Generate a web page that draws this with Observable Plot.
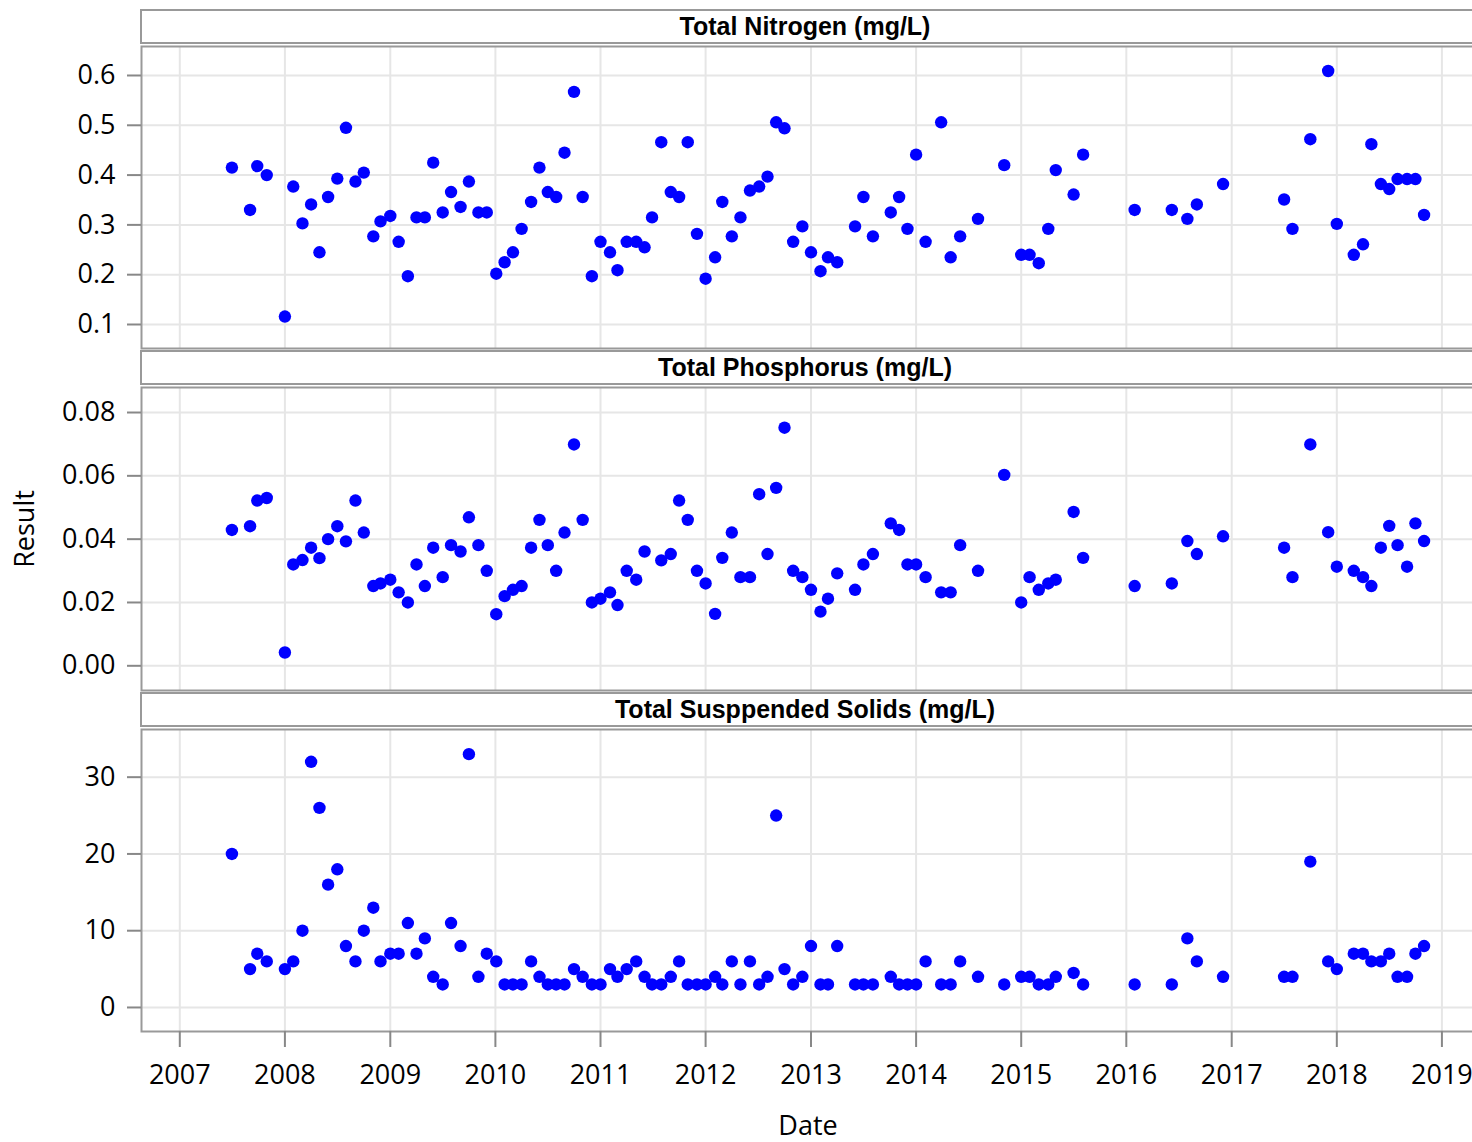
<!DOCTYPE html>
<html>
<head>
<meta charset="utf-8">
<script src="https://cdn.jsdelivr.net/npm/d3@7"></script>
<script src="https://cdn.jsdelivr.net/npm/@observablehq/plot@0.6"></script>
<style>
  html, body { margin: 0; padding: 0; background: #fff; overflow: hidden; }
  #chart { position: relative; width: 1472px; height: 1142px; overflow: hidden; background: #fff; font-family: "Open Sans", sans-serif; }
  .strip { position: absolute; left: 140px; width: 1400px; height: 35px; border: 2px solid #999; box-sizing: border-box; background: #fff; }
  .stripText { position: absolute; left: 140px; width: 1330px; height: 35px; line-height: 35px; text-align: center; font: bold 25px "Liberation Sans", Arial, sans-serif; color: #000; }
  .axisLabel { position: absolute; font-size: 27px; line-height: 1; font-family: "Open Sans", sans-serif; color: #000; white-space: nowrap; }
</style>
</head>
<body>
<div id="chart"></div>
<script>
// ---- Data ----
const dates = [
  "2007-07-01","2007-09-02","2007-09-27","2007-10-30",
  "2008-01-01","2008-01-30","2008-03-02","2008-04-01","2008-04-30","2008-05-30","2008-07-01","2008-07-31","2008-09-02","2008-10-01","2008-11-03","2008-11-28",
  "2009-01-01","2009-01-30","2009-03-03","2009-04-02","2009-05-01","2009-05-30","2009-07-02","2009-07-31","2009-09-02","2009-10-01","2009-11-03","2009-12-02",
  "2010-01-04","2010-02-02","2010-03-03","2010-04-02","2010-05-05","2010-06-03","2010-07-02","2010-07-31","2010-08-29","2010-10-01","2010-10-31","2010-12-02",
  "2011-01-01","2011-02-03","2011-03-01","2011-04-02","2011-05-05","2011-06-03","2011-06-29","2011-07-31","2011-09-02","2011-10-01","2011-10-31","2011-12-02",
  "2012-01-01","2012-02-03","2012-02-28","2012-04-01","2012-05-01","2012-06-03","2012-07-05","2012-08-03","2012-09-02","2012-10-01","2012-10-31","2012-12-02",
  "2013-01-01","2013-02-03","2013-03-01","2013-04-02","2013-06-03","2013-07-02","2013-08-04","2013-10-05","2013-11-03","2013-12-02",
  "2014-01-01","2014-02-03","2014-03-29","2014-05-01","2014-06-03","2014-08-04","2014-11-03",
  "2015-01-01","2015-01-30","2015-03-03","2015-04-05","2015-05-01","2015-07-02","2015-08-04",
  "2016-01-30","2016-06-07","2016-07-31","2016-09-02","2016-12-02",
  "2017-07-02","2017-07-31","2017-10-01","2017-12-02",
  "2018-01-01","2018-03-01","2018-04-02","2018-05-01","2018-06-03","2018-07-02","2018-07-31","2018-09-02","2018-10-01","2018-10-31"
];

const nitrogen = [
  0.415,0.330,0.418,0.400,
  0.116,0.377,0.303,0.341,0.245,0.356,0.393,0.495,0.387,0.405,0.277,0.307,
  0.318,0.266,0.197,0.315,0.315,0.425,0.325,0.366,0.336,0.387,0.325,0.325,
  0.202,0.225,0.245,0.292,0.346,0.415,0.366,0.356,0.445,0.567,0.356,0.197,
  0.266,0.245,0.209,0.266,0.266,0.255,0.315,0.466,0.366,0.356,0.466,0.282,
  0.192,0.235,0.346,0.277,0.315,0.369,0.377,0.397,0.506,0.494,0.266,0.297,
  0.245,0.207,0.235,0.225,0.297,0.356,0.277,0.325,0.356,0.292,
  0.441,0.266,0.506,0.235,0.277,0.312,0.420,
  0.240,0.240,0.223,0.292,0.410,0.361,0.441,
  0.330,0.330,0.312,0.341,0.382,
  0.351,0.292,0.472,0.609,
  0.302,0.240,0.261,0.462,0.382,0.372,0.392,0.392,0.392,0.320
];

const phosphorus = [
  0.0429,0.0441,0.0522,0.0530,
  0.0042,0.0320,0.0334,0.0373,0.0340,0.0400,0.0441,0.0393,0.0522,0.0421,0.0252,0.0260,
  0.0272,0.0232,0.0200,0.0320,0.0252,0.0373,0.0280,0.0381,0.0361,0.0469,0.0381,0.0300,
  0.0163,0.0220,0.0240,0.0252,0.0373,0.0461,0.0381,0.0300,0.0421,0.0699,0.0461,0.0200,
  0.0212,0.0232,0.0192,0.0300,0.0272,0.0361,null,0.0333,0.0353,0.0522,0.0461,0.0300,
  0.0260,0.0164,0.0341,0.0421,0.0280,0.0280,0.0542,0.0353,0.0562,0.0752,0.0300,0.0280,
  0.0240,0.0171,0.0212,0.0292,0.0240,0.0320,0.0353,0.0450,0.0429,0.0320,
  0.0320,0.0280,0.0232,0.0232,0.0381,0.0300,0.0603,
  0.0200,0.0280,0.0240,0.0260,0.0272,0.0486,0.0341,
  0.0252,0.0260,0.0394,0.0353,0.0409,
  0.0373,0.0280,0.0699,0.0422,
  0.0313,0.0300,0.0280,0.0252,0.0373,0.0442,0.0381,0.0313,0.0450,0.0394
];

const tss = [
  20,5,7,6,
  5,6,10,32,26,16,18,8,6,10,13,6,
  7,7,11,7,9,4,3,11,8,33,4,7,
  6,3,3,3,6,4,3,3,3,5,4,3,
  3,5,4,5,6,4,3,3,4,6,3,3,
  3,4,3,6,3,6,3,4,25,5,3,4,
  8,3,3,8,3,3,3,4,3,3,
  3,6,3,3,6,4,3,
  4,4,3,3,4,4.5,3,
  3,3,9,6,4,
  4,4,19,6,
  5,7,7,6,6,7,4,4,7,8
];

const facetTitles = ["Total Nitrogen (mg/L)", "Total Phosphorus (mg/L)", "Total Susppended Solids (mg/L)"];
const nitrogenTicks = [0.1, 0.2, 0.3, 0.4, 0.5, 0.6];
const phosphorusTicks = [0, 0.02, 0.04, 0.06, 0.08];
const tssTicks = [0, 10, 20, 30];
const yearTicks = d3.range(2007, 2020).map(y => new Date(Date.UTC(y, 0, 1)));
const xLabel = "Date";
const yLabel = "Result";

// ---- Layout ----
const chart = document.getElementById("chart");
const W = 1480; // right frame edge falls just outside the visible page
const xDomain = [d3.utcDay.offset(new Date("2007-01-01"), -133), d3.utcDay.offset(new Date("2019-01-01"), 134)];
const gridStyle = {stroke: "#e6e6e6", strokeOpacity: 1, strokeWidth: 2};

const panels = [
  {title: facetTitles[0], values: nitrogen, ticks: nitrogenTicks, fmt: d3.format(".1f"), domain: [0.0518, 0.6582], plotTop: 46, plotBottom: 348},
  {title: facetTitles[1], values: phosphorus, ticks: phosphorusTicks, fmt: d3.format(".2f"), domain: [-0.0078, 0.0879], plotTop: 387, plotBottom: 690},
  {title: facetTitles[2], values: tss, ticks: tssTicks, fmt: d3.format("d"), domain: [-3.13, 36.21], plotTop: 729, plotBottom: 1031, last: true}
];

panels.forEach(cfg => {
  const data = dates.map((d, i) => ({date: new Date(d), value: cfg.values[i]})).filter(d => d.value != null);
  const mt = 2, mb = cfg.last ? 111 : 2;
  const h = (cfg.plotBottom - cfg.plotTop) + mt + mb;
  const marks = [
    Plot.gridX(yearTicks, gridStyle),
    Plot.gridY(cfg.ticks, gridStyle),
    Plot.dot(data, {x: "date", y: "value", r: 6.2, fill: "#0000ff", stroke: "none"}),
    Plot.frame({stroke: "#999", strokeWidth: 2}),
    Plot.axisY(cfg.ticks, {tickFormat: cfg.fmt, tickSize: 14, tickPadding: 12, stroke: "#888", strokeWidth: 2, fill: "#000", fontSize: 27, label: null})
  ];
  if (cfg.last) {
    marks.push(Plot.axisX(yearTicks, {tickFormat: d => String(d.getUTCFullYear()), tickSize: 16, tickPadding: 17, stroke: "#888", strokeWidth: 2, fill: "#000", fontSize: 27, label: null}));
  }
  const p = Plot.plot({
    width: W, height: h,
    marginLeft: 141, marginRight: 0, marginTop: mt, marginBottom: mb,
    style: {fontFamily: '"Open Sans", sans-serif', fontSize: "27px", color: "#000", background: "transparent", overflow: "visible"},
    x: {type: "utc", domain: xDomain, ...(cfg.last ? {} : {axis: null})},
    y: {domain: cfg.domain, label: null},
    marks
  });
  p.style.position = "absolute";
  p.style.left = "0px";
  p.style.top = (cfg.plotTop - mt) + "px";
  p.style.maxWidth = "none";
  chart.appendChild(p);

  const strip = document.createElement("div");
  strip.className = "strip";
  strip.style.top = (cfg.plotTop - 37) + "px";
  chart.appendChild(strip);
  const st = document.createElement("div");
  st.className = "stripText";
  st.style.top = (cfg.plotTop - 34) + "px";
  st.textContent = cfg.title;
  chart.appendChild(st);
});

const xl = document.createElement("div");
xl.className = "axisLabel";
xl.textContent = xLabel;
xl.style.left = "808px";
xl.style.top = "1124px";
xl.style.transform = "translate(-50%, -50%)";
chart.appendChild(xl);

const yl = document.createElement("div");
yl.className = "axisLabel";
yl.textContent = yLabel;
yl.style.left = "23px";
yl.style.top = "529px";
yl.style.transform = "translate(-50%, -50%) rotate(-90deg)";
chart.appendChild(yl);
</script>
</body>
</html>
